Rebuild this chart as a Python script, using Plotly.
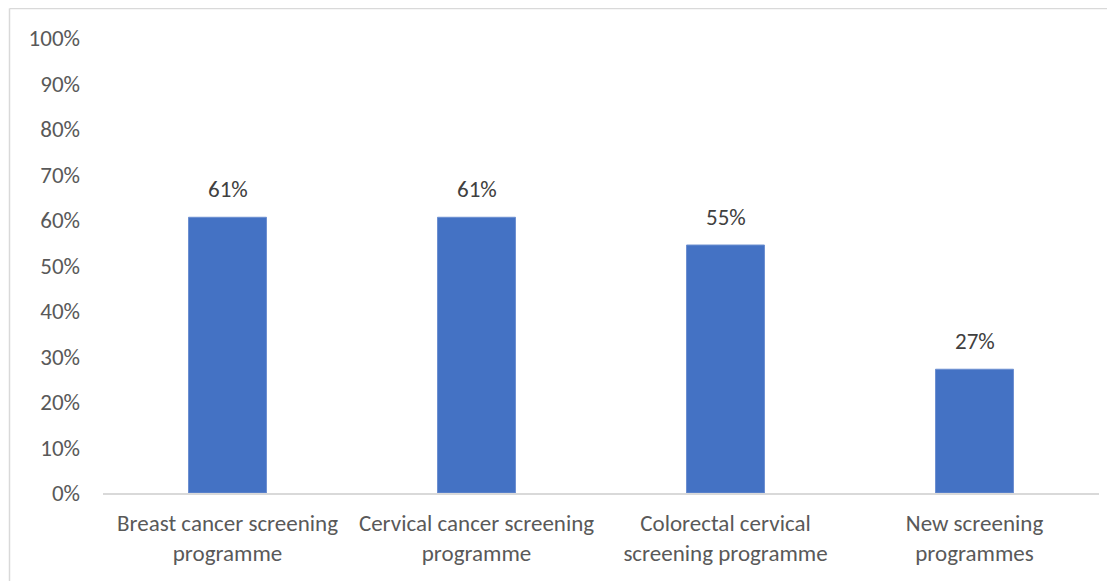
import plotly.graph_objects as go

categories = [
    "Breast cancer screening<br>programme",
    "Cervical cancer screening<br>programme",
    "Colorectal cervical<br>screening programme",
    "New screening<br>programmes",
]
values = [0.606, 0.606, 0.545, 0.272]
y_ticks = [i / 10 for i in range(11)]

W, H = 1115, 581
OFF = 8  # page body margin
ML, MR, MT, MB = 103 - OFF, 16 + OFF, 38 - OFF, 88 + OFF
FONT = "Calibri, Carlito, Lato, sans-serif"
FS = 23

fig = go.Figure()
fig.add_trace(go.Bar(
    x=categories, y=values,
    marker=dict(color="#4472C4", line=dict(color="#6C8FD0", width=1)),
    hoverinfo="skip",
))

for c, v in zip(categories, values):
    fig.add_annotation(
        x=c, y=v, text=f"{v:.0%}", showarrow=False,
        yanchor="bottom", yshift=12,
        font=dict(family=FONT, size=FS, color="#404040"),
    )

pw = W - ML - MR
ph = H - MT - MB
# chart-area border (top and left edges visible)
bx = (9.5 - OFF - ML) / pw
by = (H - MB - (8.5 - OFF)) / ph
fig.add_shape(type="line", xref="paper", yref="paper", x0=bx, x1=(W + 5 - ML) / pw,
              y0=by, y1=by, line=dict(color="#D9D9D9", width=1.5))
fig.add_shape(type="line", xref="paper", yref="paper", x0=bx, x1=bx,
              y0=by, y1=-(MB + 5) / ph, line=dict(color="#D9D9D9", width=1.5))

fig.update_layout(
    width=W, height=H,
    margin=dict(l=ML, r=MR, t=MT, b=MB),
    paper_bgcolor="white", plot_bgcolor="white",
    bargap=0.687,
    showlegend=False,
    font=dict(family=FONT, size=FS, color="#595959"),
)
fig.update_xaxes(
    showgrid=False, showline=True, linecolor="#D9D9D9", linewidth=1.5,
    ticks="", tickfont=dict(family=FONT, size=FS, color="#595959"),
    ticklabelstandoff=9,
)
fig.update_yaxes(
    range=[0, 1], tickvals=y_ticks, tickformat=".0%",
    showgrid=False, zeroline=False, showline=False, ticks="",
    tickfont=dict(family=FONT, size=FS, color="#595959"),
    ticklabelstandoff=22,
)

fig.write_html("out.html")
